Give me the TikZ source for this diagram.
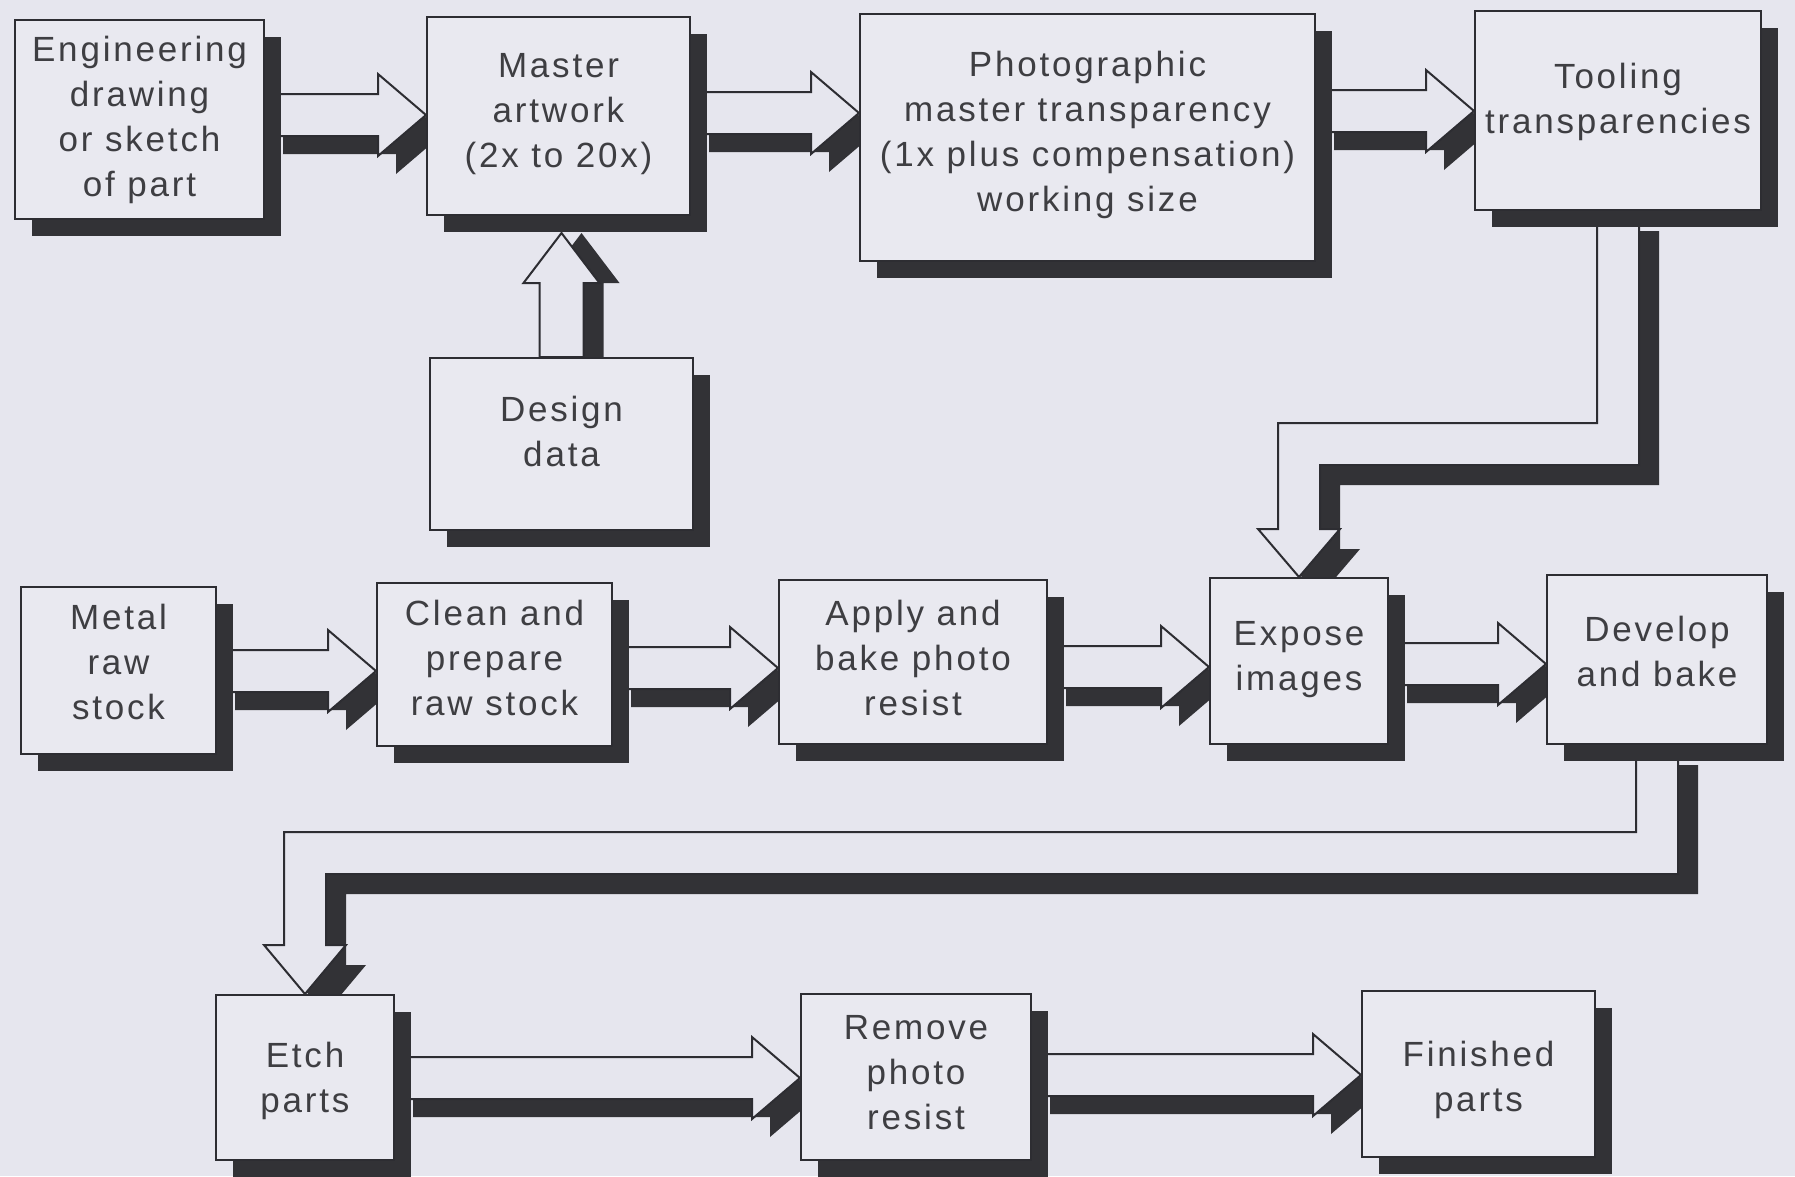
\documentclass[tikz,border=0pt]{standalone}
\usepackage{fontspec}
\setmainfont{Liberation Sans}[LetterSpace=8]
\usetikzlibrary{calc,shadows}
\definecolor{bgc}{RGB}{230,230,238}
\definecolor{boxc}{RGB}{233,233,240}
\definecolor{shadowc}{RGB}{50,50,54}
\definecolor{linec}{RGB}{45,45,50}
\definecolor{textc}{RGB}{62,62,66}
\pgfdeclarelayer{back}
\pgfdeclarelayer{arrows}
\pgfsetlayers{back,arrows,main}
\newcommand{\boxfont}{\fontsize{35}{45}\selectfont}
\newcommand{\rt}[2]{\raisebox{0pt}[\dimexpr\height-#1\relax][\dimexpr\depth+#1\relax]{\begin{tabular}{@{}c@{}}#2\end{tabular}}}
\newcommand{\shadowarrow}[2]{%
  \begin{scope}[transform canvas={shift={#1}}]\fill[shadowc] #2;\end{scope}
  \filldraw[arrowbody] #2;}
\newcommand{\harrow}[3]{%
  \coordinate (hs) at (#1.east |- 0,#3);
  \coordinate (ht) at (#2.west |- 0,#3);
  \shadowarrow{(18,18)}{($(hs)+(0,-21)$) -- ($(ht)+(-48,-21)$) -- ($(ht)+(-48,-41)$) -- (ht) -- ($(ht)+(-48,41)$) -- ($(ht)+(-48,21)$) -- ($(hs)+(0,21)$) -- cycle}}
\tikzset{
  box/.style={draw=linec, line width=2pt, fill=boxc, inner sep=0pt,
    anchor=north west, text=textc, font=\boxfont,
    general shadow={fill=shadowc, shadow xshift=17pt, shadow yshift=-17pt}},
  arrowbody/.style={fill=bgc, draw=linec, line width=2pt, line join=miter}
}
\begin{document}
\begin{tikzpicture}[x=1pt, y=-1pt]
\begin{pgfonlayer}{back}
  \fill[bgc] (0,0) rectangle (1795,1176);
\end{pgfonlayer}
\useasboundingbox (0,0) rectangle (1795,1176);

% boxes
\node[box, minimum width=249pt, minimum height=199pt] (eng) at (14,19) {\rt{0pt}{Engineering\\drawing\\or sketch\\of part}};
\node[box, minimum width=263pt, minimum height=198pt] (master) at (426,16) {\rt{3pt}{Master\\artwork\\(2x to 20x)}};
\node[box, minimum width=455pt, minimum height=247pt] (photo) at (859,13) {\rt{3pt}{Photographic\\master transparency\\(1x plus compensation)\\working size}};
\node[box, minimum width=286pt, minimum height=199pt] (tooling) at (1474,10) {\rt{9pt}{Tooling\\transparencies}};
\node[box, minimum width=263pt, minimum height=172pt] (design) at (429,357) {\rt{9pt}{Design\\data}};
\node[box, minimum width=195pt, minimum height=167pt] (metal) at (20,586) {\rt{5pt}{Metal\\raw\\stock}};
\node[box, minimum width=235pt, minimum height=163pt] (clean) at (376,582) {\rt{3pt}{Clean and\\prepare\\raw stock}};
\node[box, minimum width=268pt, minimum height=164pt] (apply) at (778,579) {\rt{1pt}{Apply and\\bake photo\\resist}};
\node[box, minimum width=178pt, minimum height=166pt] (expose) at (1209,577) {\rt{2pt}{Expose\\images}};
\node[box, minimum width=220pt, minimum height=169pt] (develop) at (1546,574) {\rt{5pt}{Develop\\and bake}};
\node[box, minimum width=178pt, minimum height=165pt] (etch) at (215,994) {\rt{-3pt}{Etch\\parts}};
\node[box, minimum width=230pt, minimum height=166pt] (remove) at (800,993) {\rt{2pt}{Remove\\photo\\resist}};
\node[box, minimum width=233pt, minimum height=166pt] (finished) at (1361,990) {\rt{-6pt}{Finished\\parts}};

\begin{pgfonlayer}{arrows}
  \harrow{eng}{master}{115}
  \harrow{master}{photo}{113}
  \harrow{photo}{tooling}{111}
  \harrow{metal}{clean}{671}
  \harrow{clean}{apply}{668}
  \harrow{apply}{expose}{667}
  \harrow{expose}{develop}{664}
  \harrow{etch}{remove}{1078}
  \harrow{remove}{finished}{1075}
  % design data up to master artwork
  \coordinate (us) at (design.north);
  \coordinate (ut) at ($(design.north |- master.south)+(0,17)$);
  \shadowarrow{(20,0)}{($(us)+(-22,0)$) -- ($(ut)+(-22,50)$) -- ($(ut)+(-38,50)$) -- (ut) -- ($(ut)+(38,50)$) -- ($(ut)+(22,50)$) -- ($(us)+(22,0)$) -- cycle}
  % tooling down to expose
  \coordinate (a1) at (tooling.south);
  \coordinate (a2) at (tooling.south |- 0,444);
  \coordinate (a3) at (expose.north |- 0,444);
  \coordinate (a4) at (expose.north);
  \shadowarrow{(20,20)}{($(a1)+(-21,0)$) -- ($(a2)+(-21,-21)$) -- ($(a3)+(-21,-21)$) -- ($(a4)+(-21,-48)$) -- ($(a4)+(-41,-48)$) -- (a4) -- ($(a4)+(41,-48)$) -- ($(a4)+(21,-48)$) -- ($(a3)+(21,21)$) -- ($(a2)+(21,21)$) -- ($(a1)+(21,0)$) -- cycle}
  % develop down to etch
  \coordinate (b1) at (develop.south);
  \coordinate (b2) at (develop.south |- 0,853);
  \coordinate (b3) at (etch.north |- 0,853);
  \coordinate (b4) at (etch.north);
  \shadowarrow{(20,20)}{($(b1)+(-21,0)$) -- ($(b2)+(-21,-21)$) -- ($(b3)+(-21,-21)$) -- ($(b4)+(-21,-49)$) -- ($(b4)+(-41,-49)$) -- (b4) -- ($(b4)+(41,-49)$) -- ($(b4)+(21,-49)$) -- ($(b3)+(21,21)$) -- ($(b2)+(21,21)$) -- ($(b1)+(21,0)$) -- cycle}
\end{pgfonlayer}
\end{tikzpicture}
\end{document}
